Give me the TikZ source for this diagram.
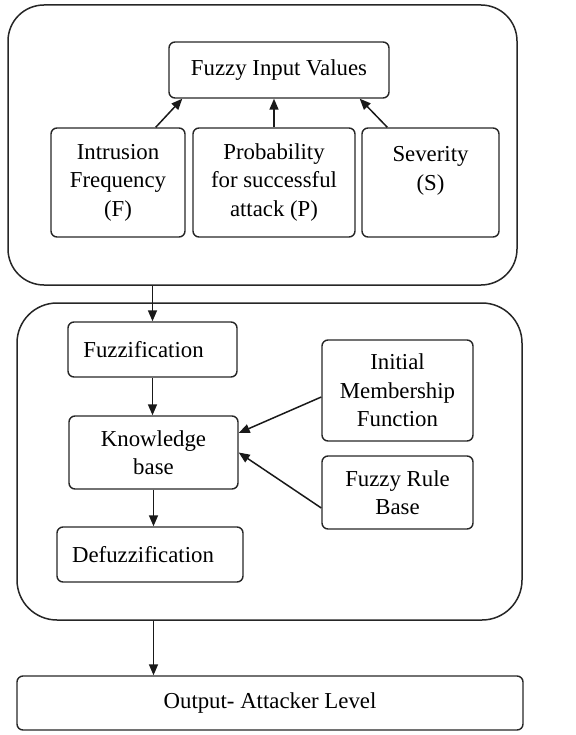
\documentclass[tikz,border=0pt]{standalone}
\usepackage{fontspec}
\setmainfont{Liberation Serif}
\usetikzlibrary{arrows.meta}
\begin{document}
\begin{tikzpicture}[x=1pt,y=-1pt,
  box/.style={draw=black!85, line width=1.4pt, rounded corners=6pt, align=center,
    font=\fontsize{22.8}{28.5}\selectfont, inner sep=0pt},
  panel/.style={draw=black!85, line width=1.5pt, rounded corners=36pt, inner sep=0pt},
  arr/.style={draw=black!90, line width=1.5pt, -{Triangle[length=11pt,width=9pt]}}]
\useasboundingbox (0,0) rectangle (575,735);
% top panel
\node[panel, minimum width=509pt, minimum height=280pt] (panel1) at (262.5,145) {};
\node[box, minimum width=220pt, minimum height=56pt] (fiv) at (279,70) {Fuzzy Input Values};
\node[box, minimum width=134pt, minimum height=109pt] (intr) at (118,182.5) {Intrusion\\Frequency\\(F)};
\node[box, minimum width=162pt, minimum height=109pt] (prob) at (274,182.5) {Probability\\for successful\\attack (P)};
\node[box, minimum width=137pt, minimum height=109pt] (sev) at (430.5,182.5) {Severity\\(S)\\\mbox{}};
% middle panel
\node[panel, rounded corners=40pt, minimum width=505pt, minimum height=317pt] (panel2) at (269.5,461.5) {};
\node[box, minimum width=169pt, minimum height=55pt] (fuzz) at (152.5,349.5) {Fuzzification\hspace*{18pt}};
\node[box, minimum width=169pt, minimum height=73pt] (kb) at (153.5,452.5) {Knowledge\\base};
\node[box, minimum width=186pt, minimum height=55pt] (defuzz) at (150,554.5) {Defuzzification\hspace*{14pt}};
\node[box, minimum width=151pt, minimum height=101pt] (imf) at (397.5,390.5) {Initial\\Membership\\Function};
\node[box, minimum width=151pt, minimum height=73pt] (frb) at (397.5,492.5) {Fuzzy Rule\\Base};
% output
\node[box, minimum width=506pt, minimum height=54pt] (out) at (270,703) {Output- Attacker Level};
% arrows
\draw[arr] ([xshift=-30pt]intr.north east) -- ([xshift=14pt]fiv.south west);
\draw[arr] (prob.north) -- (prob.north |- fiv.south);
\draw[arr] ([xshift=26pt]sev.north west) -- ([xshift=-30pt]fiv.south east);
\draw[arr] (fuzz.south |- panel1.south) -- (fuzz.north);
\draw[arr] (fuzz.south) -- (fuzz.south |- kb.north);
\draw[arr] (kb.south) -- (kb.south |- defuzz.north);
\draw[arr] ([yshift=-6.5pt]imf.west) -- ([yshift=19.5pt]kb.east);
\draw[arr] ([yshift=-15.5pt]frb.west) -- (kb.east);
\draw[arr] (kb.south |- panel2.south) -- (kb.south |- out.north);
\end{tikzpicture}
\end{document}
